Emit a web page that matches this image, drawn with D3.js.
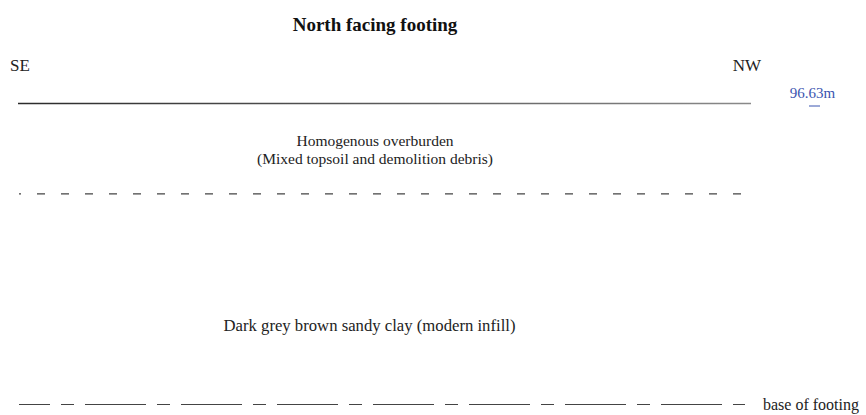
<!DOCTYPE html>
<html>
<head>
<meta charset="utf-8">
<script src="https://cdn.jsdelivr.net/npm/d3@7.9.0/dist/d3.min.js"></script>
<style>
    html, body { margin: 0; padding: 0; background: #fff; }
    svg { display: block; }
</style>
</head>
<body>
<div id="chart"></div>
<script>
// section data (elevations in m OD, horizontal distance in m)
const title = 'North facing footing';
const ends = ['SE', 'NW'];
const datum = 96.63;
const sectionLength = [0, 2.4];
const boundaryNames = ['ground surface', 'overburden base', 'base of footing'];
const boundaryLevels = [96.63, 96.33, 95.63];
const boundaryStyles = ['solid', 'dashed', 'dashdot'];
const layerNames = [
    ['Homogenous overburden', '(Mixed topsoil and demolition debris)'],
    ['Dark grey brown sandy clay (modern infill)']
];
const layerLabelLevels = [96.49, 95.873];

const width = 866;
const height = 415;
const serif = '"Liberation Serif", "DejaVu Serif", "Times New Roman", serif';

const svg = d3.select('#chart')
    .append('svg')
    .attr('width', width)
    .attr('height', height)
    .attr('font-family', serif);

const xScale = d3.scaleLinear().domain(sectionLength).range([18, 751]);
const yScale = d3.scaleLinear().domain([96.63, 95.63]).range([103.5, 404.5]);

// ground line shades from dark on the left to grey on the right
const defs = svg.append('defs');
const grad = defs.append('linearGradient').attr('id', 'groundGrad');
grad.append('stop').attr('offset', '0%').attr('stop-color', '#2b2b2b');
grad.append('stop').attr('offset', '100%').attr('stop-color', '#8a8a8a');

svg.append('text')
    .attr('x', 375)
    .attr('y', 31)
    .attr('text-anchor', 'middle')
    .attr('font-weight', 'bold')
    .attr('font-size', 19)
    .attr('fill', '#111')
    .text(title);

svg.append('text')
    .attr('x', 10)
    .attr('y', 71)
    .attr('font-size', 17)
    .attr('fill', '#222')
    .text(ends[0]);

svg.append('text')
    .attr('x', 761)
    .attr('y', 71)
    .attr('text-anchor', 'end')
    .attr('font-size', 17)
    .attr('fill', '#222')
    .text(ends[1]);

// level label
svg.append('text')
    .attr('x', 812.5)
    .attr('y', 98)
    .attr('text-anchor', 'middle')
    .attr('font-size', 15)
    .attr('fill', '#3b55b0')
    .text(d3.format('.2f')(datum) + 'm');
svg.append('line')
    .attr('x1', 809).attr('x2', 820)
    .attr('y1', yScale(datum) + 2.5).attr('y2', yScale(datum) + 2.5)
    .attr('stroke', '#3b55b0')
    .attr('stroke-width', 1);

// ground surface (solid, drawn as thin rect so the gradient works)
svg.append('rect')
    .attr('x', xScale(sectionLength[0]))
    .attr('y', yScale(boundaryLevels[0]) - 0.75)
    .attr('width', xScale(sectionLength[1]) - xScale(sectionLength[0]))
    .attr('height', 1.5)
    .attr('fill', 'url(#groundGrad)');

// other boundaries
const dashes = { dashed: '8 16', dashdot: '61 11 13 11' };
const offsets = { dashed: 6, dashdot: 30 };

svg.append('g')
    .selectAll('line')
    .data(boundaryLevels.slice(1))
    .join('line')
    .attr('x1', xScale(sectionLength[0]) + 1)
    .attr('x2', xScale(sectionLength[1]) - 6)
    .attr('y1', (d) => yScale(d))
    .attr('y2', (d) => yScale(d))
    .attr('stroke', '#444')
    .attr('stroke-width', 1.2)
    .attr('stroke-dasharray', (d, i) => dashes[boundaryStyles[i + 1]])
    .attr('stroke-dashoffset', (d, i) => offsets[boundaryStyles[i + 1]]);

svg.append('text')
    .attr('x', 763)
    .attr('y', yScale(boundaryLevels[2]) + 5)
    .attr('font-size', 16)
    .attr('fill', '#222')
    .text(boundaryNames[2]);

// layer descriptions
const layerX = [375, 369.5];
const layerSize = [15.5, 16.7];

const layerText = svg.append('g')
    .selectAll('text')
    .data(layerNames)
    .join('text')
    .attr('text-anchor', 'middle')
    .attr('font-size', (d, i) => layerSize[i])
    .attr('fill', '#222');

layerText.each(function (lines, i) {
    const t = d3.select(this);
    lines.forEach((s, j) => {
        t.append('tspan')
            .attr('x', layerX[i])
            .attr('y', yScale(layerLabelLevels[i]) + j * 18)
            .text(s);
    });
});
</script>
</body>
</html>
